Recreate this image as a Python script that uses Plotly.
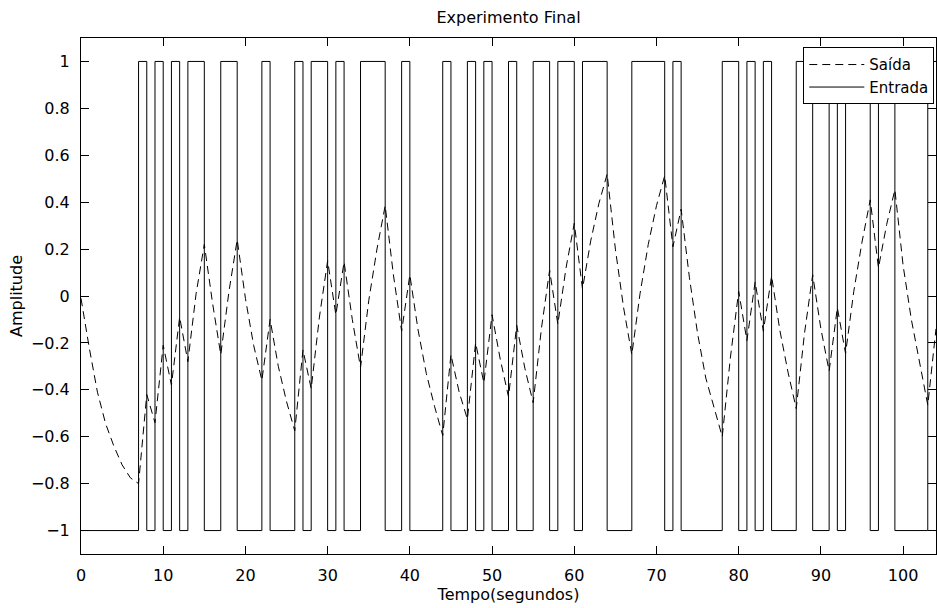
import plotly.graph_objects as go

# Input (Entrada): switching instants (s) and the level held from each instant
input_times = [0, 7, 8, 9, 10, 11, 12, 13, 15, 17, 19, 22, 23, 26, 27, 28, 30, 31, 32, 34,
               37, 39, 40, 44, 45, 47, 48, 49, 50, 52, 53, 55, 57, 58, 60, 61, 64, 67, 71,
               72, 73, 78, 80, 81, 82, 83, 84, 87, 89, 91, 92, 93, 96, 97, 99, 103, 104]
input_levels = [-1, 1, -1, 1, -1, 1, -1, 1, -1, 1, -1, 1, -1, 1, -1, 1, -1, 1, -1, 1,
                -1, 1, -1, 1, -1, 1, -1, 1, -1, 1, -1, 1, -1, 1, -1, 1, -1, 1, -1,
                1, -1, 1, -1, 1, -1, 1, -1, 1, -1, 1, -1, 1, -1, 1, -1, 1, 1]

# Output (Saída): sampled every second, t = 0..104
output_times = list(range(0, 105))
output_values = [
    -0.01, -0.22, -0.41, -0.545, -0.64, -0.72, -0.775, -0.80, -0.42, -0.54,   # 0-9
    -0.21, -0.38, -0.09, -0.28, 0.01, 0.22, -0.03, -0.25, 0.02, 0.24,          # 10-19
    -0.01, -0.21, -0.36, -0.10, -0.30, -0.45, -0.575, -0.23, -0.395, -0.09,    # 20-29
    0.15, -0.08, 0.145, -0.10, -0.305, -0.02, 0.20, 0.385, 0.09, -0.15,        # 30-39
    0.09, -0.145, -0.33, -0.47, -0.595, -0.25, -0.41, -0.525, -0.20, -0.37,    # 40-49
    -0.08, -0.27, -0.43, -0.125, -0.31, -0.455, -0.14, 0.11, -0.12, 0.12,      # 50-59
    0.31, 0.03, 0.235, 0.395, 0.52, 0.20, -0.05, -0.25, 0.01, 0.22,            # 60-69
    0.385, 0.513, 0.21, 0.37, 0.08, -0.16, -0.35, -0.48, -0.60, -0.26,         # 70-79
    0.02, -0.19, 0.06, -0.15, 0.085, -0.145, -0.325, -0.48, -0.16, 0.09,       # 80-89
    -0.14, -0.32, -0.05, -0.245, 0.02, 0.23, 0.41, 0.12, 0.305, 0.453,         # 90-99
    0.13, -0.10, -0.29, -0.465, -0.14                                          # 100-104
]

x_ticks = [0, 10, 20, 30, 40, 50, 60, 70, 80, 90, 100]
y_ticks = [-1, -0.8, -0.6, -0.4, -0.2, 0, 0.2, 0.4, 0.6, 0.8, 1]
y_tick_text = ["\u22121", "\u22120.8", "\u22120.6", "\u22120.4", "\u22120.2", "0",
               "0.2", "0.4", "0.6", "0.8", "1"]

FONT = "DejaVu Sans, Liberation Sans, Arial, sans-serif"
FS = 16

fig = go.Figure()
fig.add_trace(go.Scatter(
    x=output_times, y=output_values, mode="lines", name="Saída",
    line=dict(color="black", width=1, dash="8px,5px"),
))
fig.add_trace(go.Scatter(
    x=input_times, y=input_levels, mode="lines", name="Entrada",
    line=dict(color="black", width=1, shape="hv"),
))

fig.update_layout(
    width=937, height=608,
    paper_bgcolor="white", plot_bgcolor="white",
    margin=dict(l=81, r=1, t=38, b=54),
    font=dict(family=FONT, size=FS, color="black"),
    title=dict(text="Experimento Final", x=0.5, xanchor="center",
               xref="paper", y=1 - 17 / 608, yref="container", yanchor="middle",
               font=dict(size=FS, family=FONT, color="black")),
    showlegend=True,
    legend=dict(x=0.998, xanchor="right", y=0.982, yanchor="top",
                bgcolor="white", bordercolor="black", borderwidth=1,
                font=dict(size=15, family=FONT, color="black"),
                tracegroupgap=0, itemwidth=55),
)
fig.update_xaxes(
    range=[0, 104], tickvals=x_ticks, ticks="inside", ticklen=8, tickcolor="black",
    showline=True, linecolor="black", linewidth=1, mirror="ticks",
    showgrid=False, zeroline=False,
    title=dict(text="Tempo(segundos)", standoff=1, font=dict(size=FS, family=FONT)),
    tickfont=dict(size=FS, family=FONT), ticklabelstandoff=7,
)
fig.update_yaxes(
    range=[-1.1, 1.1], tickvals=y_ticks, ticktext=y_tick_text, ticks="inside",
    ticklen=8, tickcolor="black",
    showline=True, linecolor="black", linewidth=1, mirror="ticks",
    showgrid=False, zeroline=False,
    title=dict(text="Amplitude", standoff=4, font=dict(size=FS, family=FONT)),
    tickfont=dict(size=FS, family=FONT), ticklabelstandoff=7,
)

fig.write_html("out.html")
